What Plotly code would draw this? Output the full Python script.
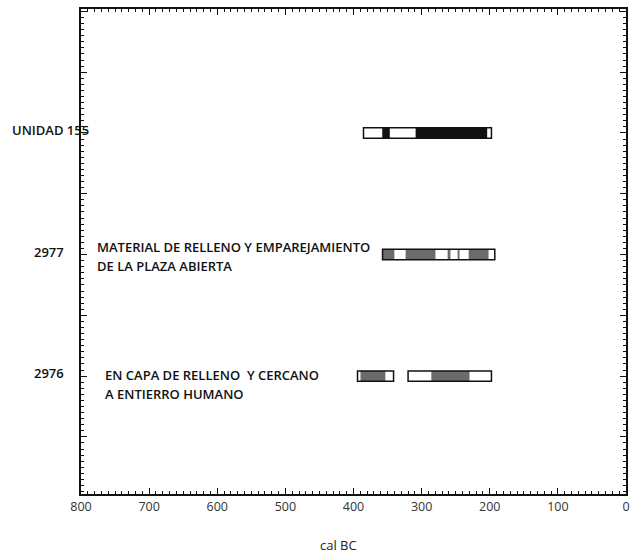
import plotly.graph_objects as go

# ---- data (cal BC) ----
row_names = ["UNIDAD 155", "2977", "2976"]
row_levels = [6, 4, 2]

# segments per row: start, end (cal BC) and fill kind
seg_row = ["UNIDAD 155"] * 5 + ["2977"] * 10 + ["2976"] * 6
seg_start = [385.3, 357.8, 346.6, 308.8, 203.4,
             357.4, 339.7, 323.5, 279.4, 261.8, 257.4, 247.1, 244.1, 230.9, 201.5,
             394.1, 389.7, 352.9,
             319.9, 285.7, 229.4]
seg_end = [357.8, 346.6, 308.8, 203.4, 197.5,
           339.7, 323.5, 279.4, 261.8, 257.4, 247.1, 244.1, 230.9, 201.5, 192.6,
           389.7, 352.9, 341.2,
           285.7, 229.4, 197.5]
seg_kind = ["w", "k", "w", "k", "w",
            "g", "w", "g", "w", "g", "w", "g", "w", "g", "w",
            "w", "g", "w",
            "w", "g", "w"]

# outer ranges (outlined boxes)
box_row = ["UNIDAD 155", "2977", "2976", "2976"]
box_start = [385.3, 357.4, 394.1, 319.9]
box_end = [197.5, 192.6, 341.2, 197.5]

descriptions = {
    "2977": ["MATERIAL DE RELLENO Y EMPAREJAMIENTO", "DE LA PLAZA ABIERTA"],
    "2976": ["EN CAPA DE RELLENO  Y CERCANO", "A ENTIERRO HUMANO"],
}

x_ticks = [800, 700, 600, 500, 400, 300, 200, 100, 0]
x_title = "cal BC"

# ---- build ----
PL, PW = 81, 545  # plot area left / width in px
level_of = dict(zip(row_names, row_levels))
kind_color = {"w": "#ffffff", "k": "#111111", "g": "#6b6b6b"}

fig = go.Figure()
fig.add_trace(go.Bar(
    orientation="h",
    y=[level_of[r] for r in seg_row],
    base=[min(a, b) for a, b in zip(seg_start, seg_end)],
    x=[abs(a - b) for a, b in zip(seg_start, seg_end)],
    width=0.17,
    marker=dict(color=[kind_color[k] for k in seg_kind], line=dict(width=0)),
    hoverinfo="skip", showlegend=False,
))
fig.add_trace(go.Bar(
    orientation="h",
    y=[level_of[r] for r in box_row],
    base=[min(a, b) for a, b in zip(box_start, box_end)],
    x=[abs(a - b) for a, b in zip(box_start, box_end)],
    width=0.17,
    marker=dict(color="rgba(0,0,0,0)", line=dict(width=1.5, color="#111111")),
    hoverinfo="skip", showlegend=False,
))

font_lab = dict(family="Open Sans", size=13, color="#111111", weight=600)

# row labels
label_x = {"UNIDAD 155": 10, "2977": 32, "2976": 32}
for name in row_names:
    fig.add_annotation(
        x=(label_x[name] - PL) / PW, xref="paper", xanchor="left",
        y=level_of[name] + 0.05, yref="y", yanchor="middle",
        text=name, showarrow=False, font=font_lab,
    )

# descriptions
desc_x = {"2977": 95, "2976": 103}
desc_dy = {"2977": [0.12, -0.19], "2976": [0.02, -0.29]}
for name, lines in descriptions.items():
    for line, dy in zip(lines, desc_dy[name]):
        fig.add_annotation(
            x=(desc_x[name] - PL) / PW, xref="paper", xanchor="left",
            y=level_of[name] + dy, yref="y", yanchor="middle",
            text=line, showarrow=False, font=font_lab,
        )

fig.add_annotation(
    x=(338 - PL) / PW, xref="paper", xanchor="center",
    y=-0.105, yref="paper", yanchor="middle",
    text=x_title, showarrow=False,
    font=dict(family="Open Sans", size=13, color="#222222"),
)

fig.update_layout(
    width=634, height=556,
    margin=dict(l=PL, r=634 - PL - PW, t=9, b=62),
    paper_bgcolor="white", plot_bgcolor="white",
    barmode="overlay",
    xaxis=dict(
        range=[800, 0], tickvals=x_ticks, ticktext=[str(v) for v in x_ticks],
        showgrid=False, zeroline=False, automargin=False,
        showline=True, linecolor="#111111", linewidth=1.5, mirror="allticks",
        ticks="inside", ticklen=6, tickwidth=1.2, tickcolor="#111111",
        minor=dict(ticks="inside", ticklen=3, dtick=10, tick0=0, tickcolor="#111111", tickwidth=1),
        tickfont=dict(family="Open Sans", size=12.5, color="#333333"),
    ),
    yaxis=dict(
        range=[0.06, 8.04], tick0=0, dtick=1, automargin=False,
        showgrid=False, zeroline=False, showticklabels=False,
        showline=True, linecolor="#111111", linewidth=1.5, mirror="allticks",
        ticks="inside", ticklen=6, tickwidth=1.2, tickcolor="#111111",
        minor=dict(ticks="inside", ticklen=3, dtick=0.1, tick0=0, tickcolor="#111111", tickwidth=1),
    ),
)

fig.write_html("out.html", config={"displayModeBar": False},
               post_script="document.body.style.margin='0px';")
